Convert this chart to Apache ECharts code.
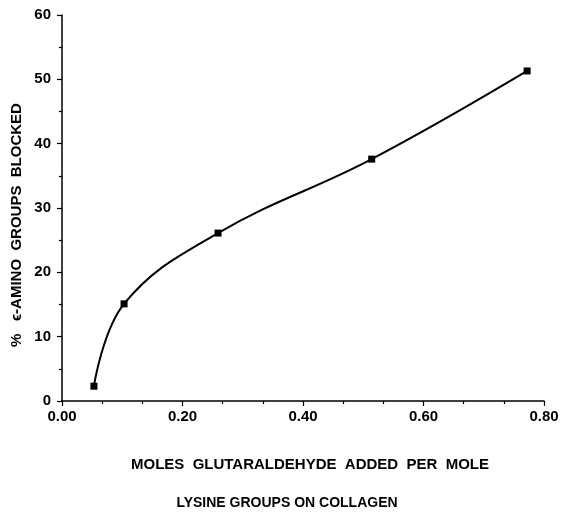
<!DOCTYPE html>
<html>
<head>
<meta charset="utf-8">
<script src="https://cdn.jsdelivr.net/npm/echarts@6/dist/echarts.min.js"></script>
<style>html,body{margin:0;padding:0;background:#fff}#c{width:579px;height:518px}</style>
</head>
<body>
<div id="c"></div>
<script>
// Data
var xValues = [0.053, 0.103, 0.259, 0.514, 0.772];
var yValues = [2.3, 15.1, 26.1, 37.6, 51.3];
var xTicks = ['0.00', '0.20', '0.40', '0.60', '0.80'];
var yTicks = ['0', '10', '20', '30', '40', '50', '60'];
var xTitleLine1 = 'MOLES  GLUTARALDEHYDE  ADDED  PER  MOLE';
var xTitleLine2 = 'LYSINE GROUPS ON COLLAGEN';
var yTitle = '%   \u03F5-AMINO  GROUPS  BLOCKED';

var points = xValues.map(function (x, i) { return [x, yValues[i]]; });
var font = '"Liberation Sans", Arial, Helvetica, sans-serif';
var axisLine = { show: true, onZero: false, lineStyle: { color: '#000', width: 1.5 } };

var chart = echarts.init(document.getElementById('c'));
chart.setOption({
  backgroundColor: '#fff',
  animation: false,
  grid: { left: 62, right: 35, top: 15, bottom: 117, containLabel: false, outerBoundsMode: 'none' },
  xAxis: {
    type: 'value', min: 0, max: 0.8, interval: 0.2,
    axisLine: axisLine,
    axisTick: { show: true, inside: false, length: 5, lineStyle: { color: '#000', width: 1.2 } },
    minorTick: { show: true, splitNumber: 3, length: 3, lineStyle: { color: '#000', width: 1.2 } },
    splitLine: { show: false },
    axisLabel: {
      color: '#000', fontFamily: font, fontWeight: 'bold', fontSize: 15, margin: 8,
      formatter: function (v) { return xTicks[Math.round(v / 0.2)]; }
    },
    name: '{a|' + xTitleLine1 + '}\n{b|' + xTitleLine2 + '}',
    nameLocation: 'middle', nameGap: 44, nameMoveOverlap: false,
    nameTextStyle: {
      color: '#000', fontFamily: font, fontWeight: 'bold', fontSize: 14, lineHeight: 39, padding: [0, 0, 0, 14],
      rich: {
        a: { color: '#000', fontFamily: font, fontWeight: 'bold', fontSize: 15, lineHeight: 39 },
        b: { color: '#000', fontFamily: font, fontWeight: 'bold', fontSize: 14, lineHeight: 39, padding: [0, 46, 0, 0] }
      }
    }
  },
  yAxis: {
    type: 'value', min: 0, max: 60, interval: 10,
    axisLine: axisLine,
    axisTick: { show: true, inside: false, length: 5, lineStyle: { color: '#000', width: 1.2 } },
    minorTick: { show: true, splitNumber: 2, length: 3, lineStyle: { color: '#000', width: 1.2 } },
    splitLine: { show: false },
    axisLabel: {
      color: '#000', fontFamily: font, fontWeight: 'bold', fontSize: 15, margin: 11,
      formatter: function (v) { return yTicks[Math.round(v / 10)]; }
    },
    name: yTitle, nameLocation: 'middle', nameGap: 38, nameRotate: 90, nameMoveOverlap: false,
    nameTextStyle: { color: '#000', fontFamily: font, fontWeight: 'bold', fontSize: 15, padding: [0, 34, 0, 0] }
  },
  series: [{
    type: 'line',
    data: points,
    smooth: 0.4,
    symbol: 'rect',
    symbolSize: 7,
    itemStyle: { color: '#000' },
    lineStyle: { color: '#000', width: 2 }
  }]
});
</script>
</body>
</html>
